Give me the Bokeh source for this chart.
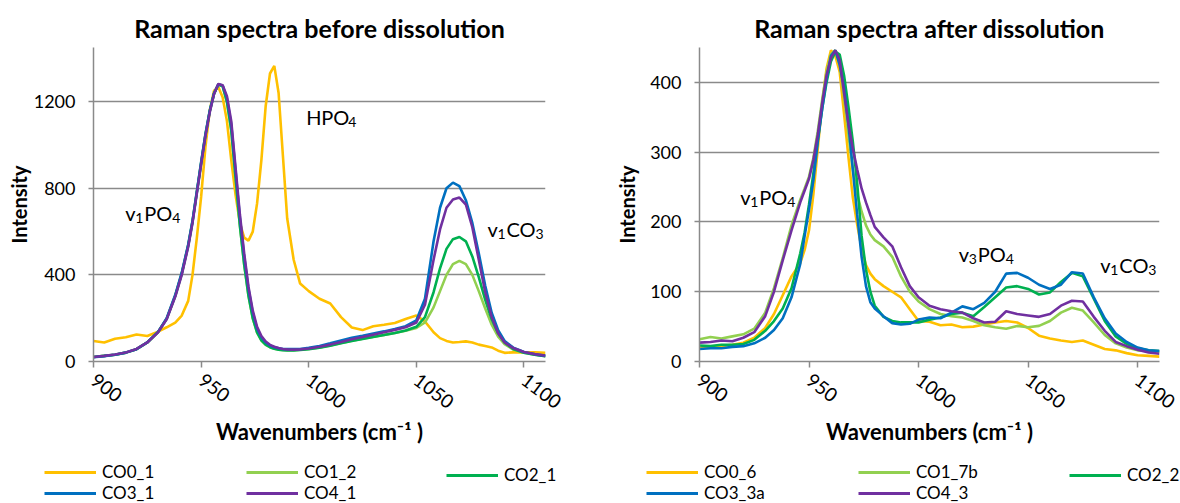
import math
from bokeh.plotting import figure
from bokeh.layouts import row, column
from bokeh.models import Label, Legend, LegendItem, Range1d, FixedTicker
from bokeh.embed import file_html
from bokeh.resources import INLINE

FONT = "Lato"
GREY = "#8a8a8a"
COLORS = ["#FFC000", "#92D050", "#00B050", "#0070C0", "#7030A0"]

x_ticks = [900, 950, 1000, 1050, 1100]
before_y_ticks = [0, 400, 800, 1200]
after_y_ticks = [0, 100, 200, 300, 400]

# ---- spectra before dissolution ----
before_names = ["CO0_1", "CO1_2", "CO2_1", "CO3_1", "CO4_1"]
before_wn = [900, 905, 910, 915, 920, 925, 930, 934, 938, 941,
             944, 946, 948, 950, 952, 954, 956, 958, 960, 962, 964, 966, 968, 970,
             972, 974, 976, 978, 980, 982, 984, 986, 988, 990,
             993, 996, 1000, 1005, 1010, 1015, 1020, 1025, 1030, 1035, 1040, 1045, 1050,
             1054, 1058, 1061, 1064, 1067, 1070, 1073, 1076, 1079, 1082, 1085, 1088, 1091,
             1095, 1100, 1105, 1110]
co0_1 = [95, 88, 105, 112, 125, 118, 138, 158, 180, 212,
         280, 400, 570, 760, 990, 1160, 1250, 1268, 1220, 1110, 930, 770, 640, 572,
         558, 600, 730, 930, 1180, 1330, 1365, 1240, 950, 660,
         470, 360, 325, 290, 268, 205, 157, 145, 163, 170, 178, 196, 212,
         185, 135, 108, 95, 88, 90, 93, 88, 78, 72, 65, 50, 40,
         42, 43, 42, 40]
co1_2 = [21, 26, 31, 41, 57, 88, 136, 198, 305, 407,
         537, 647, 782, 917, 1047, 1156, 1237, 1278, 1270, 1198, 1068, 848, 628, 448,
         303, 198, 133, 97, 77, 66, 59, 55, 53, 52,
         52, 54, 58, 65, 74, 85, 96, 105, 114, 123, 132, 142, 155,
         180, 250, 325, 400, 450, 465, 450, 400, 325, 245, 170, 115, 80,
         55, 40, 31, 25]
co2_1 = [21, 26, 31, 41, 57, 88, 136, 197, 303, 405,
         535, 645, 780, 915, 1045, 1155, 1237, 1279, 1272, 1200, 1070, 850, 630, 450,
         305, 200, 135, 98, 78, 66, 59, 54, 52, 51,
         51, 53, 57, 64, 73, 84, 95, 104, 113, 122, 132, 143, 160,
         205, 320, 430, 520, 565, 575, 555, 485, 390, 285, 195, 130, 88,
         58, 40, 31, 25]
co3_1 = [20, 25, 31, 41, 57, 88, 137, 200, 308, 410,
         540, 650, 785, 920, 1050, 1158, 1238, 1280, 1275, 1215, 1095, 880, 665, 485,
         335, 225, 152, 112, 88, 74, 66, 61, 58, 57,
         57, 58, 63, 72, 84, 97, 110, 119, 129, 139, 150, 163, 190,
         290, 555, 710, 800, 826, 810, 745, 640, 500, 350, 225, 145, 95,
         64, 44, 33, 26]
co4_1 = [21, 26, 32, 42, 58, 88, 135, 195, 300, 400,
         530, 640, 775, 910, 1040, 1150, 1235, 1282, 1276, 1225, 1110, 895, 680, 500,
         345, 235, 160, 118, 92, 77, 68, 62, 58, 56,
         55, 56, 60, 68, 78, 90, 103, 113, 124, 135, 146, 158, 180,
         262, 470, 610, 710, 748, 757, 725, 620, 470, 320, 205, 130, 88,
         62, 44, 34, 27]

# ---- spectra after dissolution ----
after_names = ["CO0_6", "CO1_7b", "CO2_2", "CO3_3a", "CO4_3"]
after_wn = [900, 905, 910, 915, 920, 925, 930, 934, 938, 942,
            946, 948, 950, 952, 954, 956, 958, 960, 962, 964, 966, 968, 970,
            972, 974, 976, 978, 980, 984, 988, 992, 996,
            1000, 1005, 1010, 1015, 1020, 1025, 1030, 1035, 1040, 1045, 1050,
            1055, 1060, 1065, 1070, 1075, 1080, 1085, 1090, 1095, 1100, 1105, 1110]
co0_6 = [20, 21, 22, 24, 27, 34, 48, 68, 95, 122,
         141, 160, 188, 240, 305, 370, 420, 446, 438, 415, 355, 293, 235,
         196, 162, 138, 126, 118, 108, 100, 92, 75,
         58, 57, 52, 53, 49, 50, 53, 56, 58, 56, 48,
         37, 33, 30, 28, 30, 24, 18, 16, 12, 9, 8, 7]
co1_7b = [32, 35, 33, 36, 39, 47, 70, 105, 148, 195,
          232, 248, 265, 292, 330, 375, 415, 440, 446, 425, 380, 325, 275,
          240, 215, 195, 182, 174, 165, 150, 122, 100,
          86, 75, 68, 65, 63, 58, 52, 49, 47, 51, 49,
          51, 58, 70, 77, 73, 56, 38, 26, 20, 16, 15, 14]
co2_2 = [23, 22, 24, 24, 25, 31, 44, 58, 76, 105,
         155, 185, 225, 270, 318, 362, 400, 430, 444, 440, 410, 365, 315,
         255, 180, 132, 100, 80, 64, 58, 56, 56,
         56, 60, 63, 68, 70, 65, 78, 92, 106, 108, 104,
         96, 99, 114, 127, 122, 90, 58, 36, 25, 19, 16, 15]
co3_3a = [18, 19, 19, 21, 22, 26, 34, 45, 62, 92,
          140, 180, 218, 260, 315, 362, 405, 438, 446, 425, 393, 340, 275,
          210, 150, 108, 85, 76, 65, 55, 53, 54,
          60, 63, 62, 70, 79, 75, 84, 100, 126, 127, 120,
          110, 104, 110, 128, 126, 92, 62, 40, 28, 20, 16, 15]
co4_3 = [27, 28, 30, 29, 34, 42, 65, 100, 145, 188,
         228, 245, 262, 289, 325, 370, 410, 435, 446, 432, 385, 340, 305,
         275, 248, 228, 210, 193, 178, 165, 135, 108,
         92, 80, 75, 72, 70, 62, 56, 57, 72, 68, 66,
         64, 68, 80, 87, 86, 64, 44, 28, 22, 17, 13, 11]

CHART_H = 457
LEGEND_H = 46
ROW_H = 18


def piece_label(p, x, y, pieces, size="20px", sub_size="14px"):
    """Write a band name made of normal and subscript pieces."""
    for text, dx, sub in pieces:
        p.add_layout(Label(
            x=x, y=y, x_offset=dx, y_offset=(6 if sub else 11), text=text,
            text_font=FONT, text_font_size=sub_size if sub else size,
            text_color="#000000", text_align="left", text_baseline="alphabetic"))


def band(p, x, y, lead, lead_sub, body, body_sub, body_dx=19, tail_dx=47):
    pieces = [(lead, 0, False), (lead_sub, 10, True), (body, body_dx, False),
              (body_sub, tail_dx, True)]
    piece_label(p, x, y, pieces)


def build(title, wn, series, y_max, y_ticks, borders, ylabel_standoff):
    left, right, top, bottom = borders
    p = figure(width=590, height=CHART_H, output_backend="svg", toolbar_location=None,
               x_range=Range1d(900, 1110), y_range=Range1d(0, y_max),
               min_border_left=left, min_border_right=right,
               min_border_top=top, min_border_bottom=bottom)
    p.outline_line_color = None
    p.background_fill_color = "white"
    p.border_fill_color = "white"

    p.title.text = title
    p.title.align = "center"
    p.title.text_font = FONT
    p.title.text_font_size = "25px"
    p.title.text_font_style = "bold"
    p.title.text_color = "#000000"
    p.title.standoff = 10

    p.xgrid.grid_line_color = None
    p.ygrid.grid_line_color = GREY
    p.ygrid.grid_line_width = 1.5
    p.ygrid.ticker = FixedTicker(ticks=y_ticks)

    p.xaxis.ticker = FixedTicker(ticks=x_ticks)
    p.yaxis.ticker = FixedTicker(ticks=y_ticks)
    for ax in (p.xaxis[0], p.yaxis[0]):
        ax.axis_line_color = GREY
        ax.axis_line_width = 1.5
        ax.major_tick_line_color = GREY
        ax.major_tick_line_width = 1.5
        ax.minor_tick_line_color = None
        ax.major_label_text_font = FONT
        ax.major_label_text_color = "#000000"
        ax.axis_label_text_font = FONT
        ax.axis_label_text_font_style = "bold"
        ax.axis_label_text_color = "#000000"
    p.yaxis.major_label_text_font_size = "18px"
    p.xaxis.major_label_text_font_size = "19px"
    p.xaxis.major_tick_in = 0
    p.xaxis.major_tick_out = 6
    p.yaxis.major_tick_in = 0
    p.yaxis.major_tick_out = 5
    p.yaxis.major_label_standoff = 13
    p.xaxis.major_label_standoff = 10
    p.xaxis.major_label_orientation = -0.65

    p.yaxis.axis_label = "Intensity"
    p.yaxis.axis_label_text_font_size = "20px"
    p.yaxis.axis_label_standoff = ylabel_standoff
    p.xaxis.axis_label = "Wavenumbers (cm\u207b\u00b9 )"
    p.xaxis.axis_label_text_font_size = "22px"
    p.xaxis.axis_label_standoff = 0

    for ys, color in zip(series, COLORS):
        p.line(wn, ys, line_color=color, line_width=2.6)
    return p


def legend_strip(names, column_x):
    """Series key laid out in three columns under a chart."""
    p = figure(width=590, height=LEGEND_H, output_backend="svg", toolbar_location=None,
               x_range=Range1d(0, 1), y_range=Range1d(0, 1),
               x_axis_location=None, y_axis_location=None,
               min_border=0, min_border_left=0, min_border_right=0,
               min_border_top=0, min_border_bottom=0)
    p.outline_line_color = None
    p.grid.visible = False
    # swatch renderers sit outside the visible range; only their key entries show
    swatches = [p.line([-2, -1], [-2, -1], line_color=c, line_width=3) for c in COLORS]
    columns = [[0, 3], [1, 4], [2]]
    for col, cx in zip(columns, column_x):
        items = [LegendItem(label=names[i], renderers=[swatches[i]]) for i in col]
        bottom = LEGEND_H - 10 - ROW_H * len(col)
        p.add_layout(Legend(items=items, location=(cx, bottom), orientation="vertical",
                            label_text_font=FONT, label_text_font_size="17px",
                            label_text_color="#000000",
                            glyph_width=52, glyph_height=ROW_H, label_height=ROW_H,
                            label_standoff=6, spacing=0, padding=0, margin=0,
                            background_fill_alpha=0, border_line_color=None))
    return p


left = build("Raman spectra before dissolution", before_wn,
             [co0_1, co1_2, co2_1, co3_1, co4_1],
             1450, before_y_ticks, (93, 45, 44, CHART_H - 361), 0)
piece_label(left, 998.8, 1077, [("H", 0, False), ("PO", 15, False), ("4", 42, True)])
band(left, 914.7, 635, "v", "1", "PO", "4")
band(left, 1083.0, 561, "v", "1", "CO", "3", tail_dx=48)

right = build("Raman spectra after dissolution", after_wn,
              [co0_6, co1_7b, co2_2, co3_3a, co4_3],
              450, after_y_ticks, (109, 21, 47, CHART_H - 363), 8)
band(right, 918.6, 220, "v", "1", "PO", "4")
band(right, 1018.3, 139, "v", "3", "PO", "4")
band(right, 1083.0, 122, "v", "1", "CO", "3", tail_dx=48)

left_key = legend_strip(before_names, [44, 246, 446])
right_key = legend_strip(after_names, [56, 268, 479])

layout = column(row(left, right, spacing=0), row(left_key, right_key, spacing=0), spacing=0)
open("out.html", "w").write(file_html(layout, INLINE))
